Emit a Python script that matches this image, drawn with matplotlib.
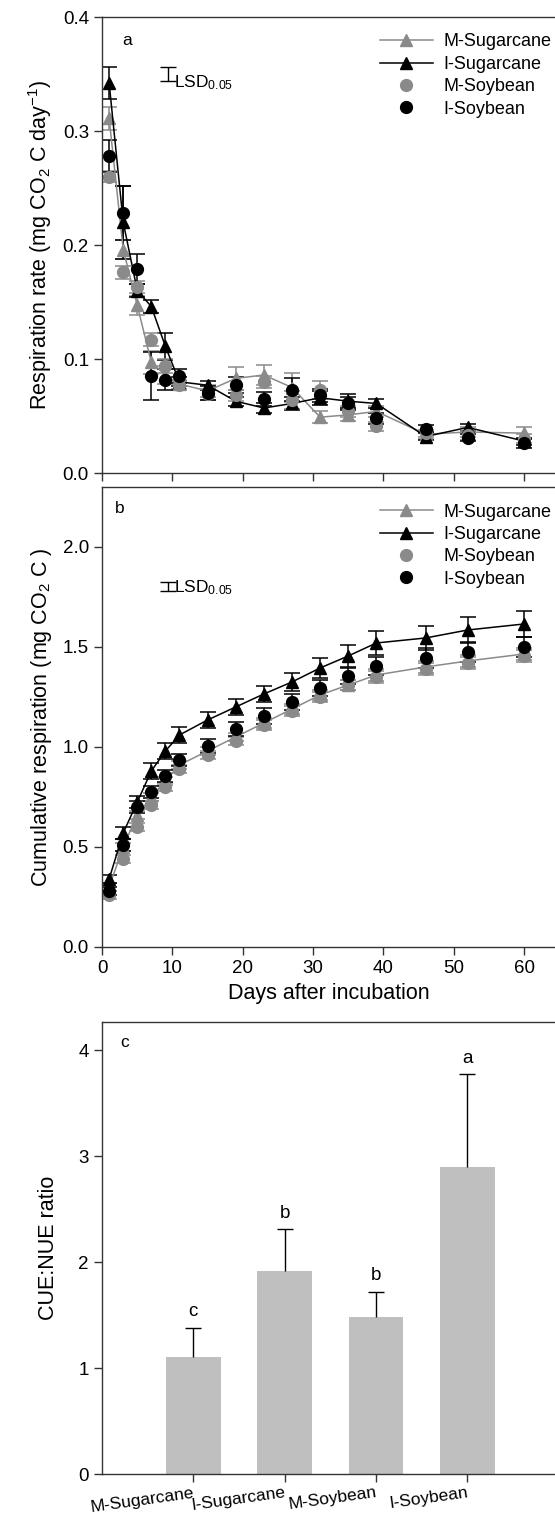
import numpy as np
import matplotlib
matplotlib.use('Agg')
import matplotlib.pyplot as plt
from matplotlib.lines import Line2D

# 字体设置
plt.rcParams['font.family'] = ['Liberation Sans', 'DejaVu Sans']
plt.rcParams['mathtext.fontset'] = 'custom'
plt.rcParams['mathtext.rm'] = 'Liberation Sans'
plt.rcParams['mathtext.it'] = 'Liberation Sans:italic'
plt.rcParams['axes.linewidth'] = 1.0
plt.rcParams['xtick.direction'] = 'out'
plt.rcParams['ytick.direction'] = 'out'

# 数据
days = [1, 3, 5, 7, 9, 11, 15, 19, 23, 27, 31, 35, 39, 46, 52, 60]

# (a) 呼吸速率
m_sug_a = [0.311, 0.196, 0.147, 0.097, 0.086, 0.078, 0.072, 0.083, 0.086, 0.075, 0.049, 0.051, 0.054, 0.034, 0.036, 0.035]
i_sug_a = [0.342, 0.220, 0.160, 0.146, 0.111, 0.080, 0.077, 0.063, 0.057, 0.061, 0.066, 0.063, 0.061, 0.032, 0.040, 0.028]
m_soy_a = [0.260, 0.176, 0.163, 0.117, 0.094, 0.077, 0.069, 0.068, 0.080, 0.064, 0.073, 0.054, 0.041, 0.035, 0.033, 0.030]
i_soy_a = [0.278, 0.228, 0.179, 0.085, 0.082, 0.085, 0.070, 0.077, 0.065, 0.073, 0.068, 0.061, 0.048, 0.039, 0.031, 0.026]
m_sug_a_err = [0.010, 0.008, 0.008, 0.010, 0.008, 0.004, 0.005, 0.010, 0.009, 0.013, 0.005, 0.005, 0.005, 0.004, 0.004, 0.005]
i_sug_a_err = [0.014, 0.032, 0.006, 0.006, 0.012, 0.004, 0.004, 0.004, 0.004, 0.006, 0.006, 0.006, 0.004, 0.003, 0.003, 0.003]
m_soy_a_err = [0.005, 0.006, 0.005, 0.006, 0.006, 0.004, 0.005, 0.005, 0.005, 0.008, 0.008, 0.005, 0.004, 0.003, 0.004, 0.004]
i_soy_a_err = [0.014, 0.024, 0.013, 0.021, 0.009, 0.006, 0.006, 0.007, 0.006, 0.010, 0.006, 0.006, 0.005, 0.003, 0.003, 0.004]

# (b) 累积呼吸
m_sug_b = [0.30, 0.50, 0.66, 0.75, 0.83, 0.91, 0.98, 1.05, 1.12, 1.19, 1.26, 1.31, 1.36, 1.40, 1.43, 1.465]
i_sug_b = [0.34, 0.57, 0.725, 0.88, 0.98, 1.06, 1.135, 1.20, 1.265, 1.325, 1.395, 1.455, 1.52, 1.545, 1.585, 1.615]
m_soy_b = [0.26, 0.44, 0.60, 0.71, 0.80, 0.89, 0.96, 1.03, 1.11, 1.18, 1.25, 1.31, 1.35, 1.39, 1.42, 1.455]
i_soy_b = [0.28, 0.51, 0.70, 0.775, 0.855, 0.935, 1.005, 1.09, 1.155, 1.225, 1.295, 1.355, 1.405, 1.445, 1.475, 1.50]
m_sug_b_err = [0.02, 0.02, 0.02, 0.02, 0.02, 0.02, 0.02, 0.02, 0.025, 0.025, 0.025, 0.025, 0.03, 0.03, 0.03, 0.03]
i_sug_b_err = [0.02, 0.03, 0.03, 0.04, 0.04, 0.04, 0.04, 0.04, 0.04, 0.045, 0.05, 0.055, 0.06, 0.06, 0.065, 0.065]
m_soy_b_err = [0.02, 0.02, 0.02, 0.02, 0.02, 0.02, 0.02, 0.02, 0.025, 0.025, 0.025, 0.025, 0.03, 0.03, 0.03, 0.03]
i_soy_b_err = [0.02, 0.03, 0.03, 0.03, 0.03, 0.03, 0.035, 0.035, 0.04, 0.04, 0.04, 0.04, 0.045, 0.05, 0.05, 0.05]

lsd_a = 0.013
lsd_b = 0.045

# (c) CUE:NUE
treatments = ['M-Sugarcane', 'I-Sugarcane', 'M-Soybean', 'I-Soybean']
ratio = [1.10, 1.92, 1.48, 2.90]
ratio_err = [0.28, 0.39, 0.24, 0.87]
letters = ['c', 'b', 'b', 'a']

gray = '#8a8a8a'
black = '#000000'
spine_c = '#333333'

fig = plt.figure(figsize=(5.55, 15.19), dpi=100)
ax_a = fig.add_axes([0.184, 0.6886, 0.816, 0.3002])
ax_b = fig.add_axes([0.184, 0.3766, 0.816, 0.3028])
ax_c = fig.add_axes([0.184, 0.0296, 0.816, 0.2973])

def series(ax, y, err, color, marker, line):
    ax.errorbar(days, y, yerr=err, color=color, marker=marker, markersize=8.5,
                linestyle='-' if line else 'none', linewidth=1.1,
                ecolor=color, elinewidth=1.1, capsize=6, capthick=1.1)

def legend(ax):
    hs = [Line2D([], [], color=gray, marker='^', markersize=8.5, lw=1.1),
          Line2D([], [], color=black, marker='^', markersize=8.5, lw=1.1),
          Line2D([], [], color=gray, marker='o', markersize=8.5, lw=0),
          Line2D([], [], color=black, marker='o', markersize=8.5, lw=0)]
    ax.legend(hs, treatments, loc='upper left', bbox_to_anchor=(0.614, 0.964),
              frameon=False, fontsize=13, handlelength=2.9, handletextpad=0.6,
              labelspacing=0.3, borderpad=0, borderaxespad=0)

def style(ax):
    ax.spines['right'].set_visible(False)
    for s in ['left', 'top', 'bottom']:
        ax.spines[s].set_color(spine_c)
    ax.tick_params(length=6, width=1, color=spine_c, labelsize=13.5)

# 图 a
series(ax_a, m_sug_a, m_sug_a_err, gray, '^', True)
series(ax_a, i_sug_a, i_sug_a_err, black, '^', True)
series(ax_a, m_soy_a, m_soy_a_err, gray, 'o', False)
series(ax_a, i_soy_a, i_soy_a_err, black, 'o', False)
ax_a.errorbar([9.3], [0.350], yerr=[lsd_a / 2], color=black, lw=1, capsize=6, capthick=1)
ax_a.text(10.2, 0.342, 'LSD$_{\\mathregular{0.05}}$', fontsize=12.5, va='center')
ax_a.text(2.8, 0.379, 'a', fontsize=12.5, va='center')
ax_a.set_xlim(0, 64.4)
ax_a.set_ylim(0, 0.4)
ax_a.set_xticks(range(0, 61, 10))
ax_a.set_xticklabels([])
ax_a.set_yticks([0.0, 0.1, 0.2, 0.3, 0.4])
ax_a.set_ylabel('Respiration rate (mg CO$_{\\mathregular{2}}$ C day$^{\\mathregular{-1}}$)', fontsize=15.5, labelpad=6)
style(ax_a)
legend(ax_a)

# 图 b
series(ax_b, m_sug_b, m_sug_b_err, gray, '^', True)
series(ax_b, i_sug_b, i_sug_b_err, black, '^', True)
series(ax_b, m_soy_b, m_soy_b_err, gray, 'o', False)
series(ax_b, i_soy_b, i_soy_b_err, black, 'o', False)
ax_b.errorbar([9.3], [1.80], yerr=[lsd_b / 2], color=black, lw=1, capsize=6, capthick=1)
ax_b.text(10.2, 1.795, 'LSD$_{\\mathregular{0.05}}$', fontsize=12.5, va='center')
ax_b.text(1.8, 2.19, 'b', fontsize=12.5, va='center')
ax_b.set_xlim(0, 64.4)
ax_b.set_ylim(0, 2.3)
ax_b.set_xticks(range(0, 61, 10))
ax_b.set_yticks([0.0, 0.5, 1.0, 1.5, 2.0])
ax_b.set_yticklabels(['0.0', '0.5', '1.0', '1.5', '2.0'])
ax_b.set_xlabel('Days after incubation', fontsize=15.5, labelpad=4)
ax_b.set_ylabel('Cumulative respiration (mg CO$_{\\mathregular{2}}$ C )', fontsize=15.5, labelpad=6)
style(ax_b)
legend(ax_b)

# 图 c
x = np.arange(len(treatments))
ax_c.bar(x, ratio, width=0.6, color='#bfbfbf', zorder=2)
eb = ax_c.errorbar(x, ratio, yerr=[np.zeros(len(ratio)), ratio_err], fmt='none',
                   ecolor=black, elinewidth=1, capsize=6, capthick=1, zorder=3)
eb[1][0].set_visible(False)  # 去掉下端横线
for xi, r, e, l in zip(x, ratio, ratio_err, letters):
    ax_c.text(xi, r + e + 0.07, l, ha='center', va='bottom', fontsize=13.5)
ax_c.text(-0.8, 4.07, 'c', fontsize=12.5, va='center')
ax_c.set_xlim(-1.0, 3.96)
ax_c.set_ylim(0, 4.26)
ax_c.set_yticks([0, 1, 2, 3, 4])
ax_c.set_xticks(x)
ax_c.set_xticklabels(treatments, rotation=8, ha='right', rotation_mode='anchor')
ax_c.set_ylabel('CUE:NUE ratio', fontsize=15.5, labelpad=14)
style(ax_c)
ax_c.tick_params(axis='x', labelsize=12.5, pad=2)

fig.savefig('out.png', dpi=100)
